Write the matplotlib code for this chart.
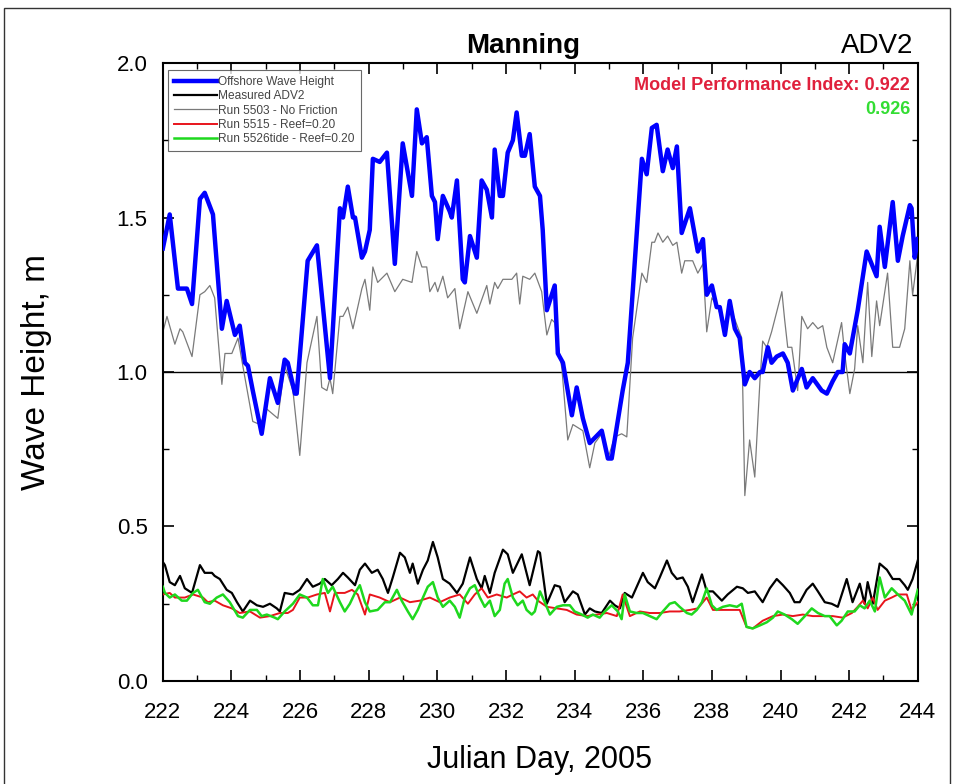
import numpy as np
import matplotlib.pyplot as plt
from matplotlib.patches import Rectangle
from matplotlib.ticker import MultipleLocator

plt.rcParams['font.family'] = ['Liberation Sans', 'DejaVu Sans']

# offshore wave height (day, Hs)
offshore_day = [222.0, 222.2, 222.44, 222.7, 222.85, 223.08, 223.22, 223.46, 223.72, 223.86,
                224.1, 224.24, 224.39, 224.48, 224.62, 224.88, 225.12, 225.35, 225.55, 225.64,
                225.85, 225.9, 226.22, 226.49, 226.87, 227.16, 227.25, 227.39, 227.54, 227.6,
                227.8, 227.89, 228.03, 228.12, 228.32, 228.53, 228.76, 228.99, 229.26, 229.4,
                229.55, 229.69, 229.84, 229.93, 230.01, 230.16, 230.36, 230.42, 230.57, 230.74,
                230.8, 230.95, 231.15, 231.29, 231.44, 231.59, 231.67, 231.82, 231.91, 232.05,
                232.2, 232.31, 232.46, 232.55, 232.69, 232.84, 232.99, 233.07, 233.19, 233.42,
                233.51, 233.66, 233.92, 234.06, 234.24, 234.44, 234.79, 234.97, 235.08, 235.4,
                235.55, 235.96, 236.1, 236.25, 236.39, 236.57, 236.71, 236.86, 236.98, 237.12,
                237.36, 237.59, 237.74, 237.85, 238.0, 238.14, 238.23, 238.38, 238.52, 238.67,
                238.81, 238.96, 239.1, 239.25, 239.4, 239.48, 239.63, 239.74, 239.89, 240.07,
                240.21, 240.36, 240.47, 240.62, 240.76, 240.94, 241.2, 241.35, 241.52, 241.67,
                241.81, 241.87, 242.02, 242.25, 242.51, 242.8, 242.89, 243.04, 243.27, 243.42,
                243.56, 243.77, 243.82, 243.91, 244.0]
offshore_hs = [1.40, 1.51, 1.27, 1.27, 1.22, 1.56, 1.58, 1.51, 1.14, 1.23,
               1.12, 1.15, 1.03, 1.02, 0.94, 0.80, 0.98, 0.90, 1.04, 1.03,
               0.93, 0.93, 1.36, 1.41, 0.98, 1.53, 1.50, 1.60, 1.50, 1.50,
               1.37, 1.39, 1.46, 1.69, 1.68, 1.71, 1.35, 1.74, 1.57, 1.85,
               1.74, 1.76, 1.57, 1.55, 1.43, 1.57, 1.52, 1.50, 1.62, 1.30,
               1.29, 1.44, 1.37, 1.62, 1.59, 1.50, 1.72, 1.57, 1.57, 1.71,
               1.75, 1.84, 1.70, 1.70, 1.77, 1.60, 1.57, 1.46, 1.20, 1.28,
               1.06, 1.03, 0.86, 0.95, 0.85, 0.77, 0.81, 0.72, 0.72, 0.94,
               1.03, 1.69, 1.64, 1.79, 1.80, 1.65, 1.72, 1.66, 1.73, 1.45,
               1.53, 1.39, 1.43, 1.25, 1.28, 1.21, 1.21, 1.12, 1.23, 1.14,
               1.11, 0.96, 1.00, 0.98, 1.00, 1.00, 1.08, 1.03, 1.05, 1.06,
               1.03, 0.94, 0.97, 1.01, 0.95, 0.98, 0.94, 0.93, 0.97, 1.00,
               1.00, 1.09, 1.06, 1.20, 1.39, 1.31, 1.47, 1.34, 1.55, 1.36,
               1.44, 1.54, 1.53, 1.37, 1.43]

# run 5503, no friction
nofric_day = [222.0, 222.12, 222.35, 222.5, 222.58, 222.85, 223.08, 223.22, 223.37, 223.51,
              223.72, 223.81, 224.01, 224.19, 224.33, 224.62, 224.83, 225.03, 225.35, 225.55,
              225.79, 225.99, 226.2, 226.49, 226.63, 226.78, 226.87, 226.95, 227.16, 227.25,
              227.39, 227.54, 227.8, 227.89, 228.03, 228.12, 228.26, 228.53, 228.76, 228.99,
              229.26, 229.4, 229.55, 229.69, 229.78, 229.93, 230.01, 230.16, 230.3, 230.51,
              230.65, 230.89, 231.15, 231.44, 231.53, 231.67, 231.76, 231.91, 232.17, 232.31,
              232.4, 232.49, 232.69, 232.84, 233.04, 233.19, 233.33, 233.42, 233.63, 233.8,
              233.95, 234.24, 234.44, 234.59, 234.79, 234.97, 235.17, 235.37, 235.52, 235.69,
              235.96, 236.1, 236.25, 236.33, 236.43, 236.57, 236.71, 236.86, 236.98, 237.12,
              237.21, 237.44, 237.59, 237.74, 237.85, 238.0, 238.17, 238.38, 238.52, 238.67,
              238.87, 238.96, 239.1, 239.25, 239.4, 239.48, 239.6, 239.74, 240.04, 240.12,
              240.21, 240.33, 240.5, 240.62, 240.79, 240.94, 241.09, 241.23, 241.35, 241.52,
              241.78, 241.87, 242.02, 242.16, 242.25, 242.4, 242.54, 242.66, 242.8, 242.89,
              243.12, 243.27, 243.47, 243.62, 243.77, 243.85, 244.0]
nofric_hs = [1.13, 1.18, 1.09, 1.14, 1.13, 1.05, 1.25, 1.26, 1.28, 1.24,
             0.96, 1.06, 1.06, 1.11, 1.02, 0.84, 0.83, 0.88, 0.85, 1.02,
             0.94, 0.73, 1.03, 1.18, 0.95, 0.94, 0.98, 0.93, 1.18, 1.18,
             1.21, 1.14, 1.27, 1.30, 1.20, 1.34, 1.29, 1.32, 1.26, 1.30,
             1.29, 1.39, 1.34, 1.34, 1.26, 1.29, 1.26, 1.31, 1.24, 1.27,
             1.14, 1.26, 1.19, 1.28, 1.22, 1.29, 1.27, 1.30, 1.30, 1.32,
             1.22, 1.31, 1.30, 1.32, 1.26, 1.12, 1.17, 1.16, 1.01, 0.78,
             0.83, 0.81, 0.69, 0.77, 0.80, 0.72, 0.79, 0.80, 0.79, 1.11,
             1.32, 1.29, 1.42, 1.42, 1.45, 1.42, 1.44, 1.41, 1.42, 1.32,
             1.36, 1.36, 1.32, 1.35, 1.13, 1.24, 1.21, 1.14, 1.21, 1.17,
             1.11, 0.60, 0.78, 0.66, 0.97, 1.10, 1.08, 1.13, 1.26, 1.17,
             1.08, 1.08, 0.94, 1.18, 1.14, 1.16, 1.14, 1.15, 1.08, 1.03,
             1.16, 1.06, 0.93, 1.01, 1.15, 1.03, 1.29, 1.05, 1.23, 1.15,
             1.32, 1.08, 1.08, 1.14, 1.36, 1.25, 1.38]

# measured at ADV2
adv2_day = [222.0, 222.06, 222.2, 222.35, 222.5, 222.64, 222.85, 223.08, 223.22, 223.43,
            223.51, 223.66, 223.86, 224.01, 224.16, 224.33, 224.54, 224.74, 224.92, 225.12,
            225.32, 225.41, 225.55, 225.79, 225.99, 226.2, 226.37, 226.57, 226.72, 226.92,
            227.1, 227.25, 227.39, 227.6, 227.74, 227.89, 228.09, 228.26, 228.41, 228.56,
            228.7, 228.91, 229.05, 229.2, 229.28, 229.43, 229.58, 229.72, 229.87, 230.01,
            230.16, 230.36, 230.57, 230.74, 230.95, 231.15, 231.29, 231.38, 231.53, 231.67,
            231.91, 232.05, 232.2, 232.46, 232.69, 232.93, 232.99, 233.19, 233.42, 233.57,
            233.71, 233.95, 234.09, 234.3, 234.44, 234.59, 234.79, 235.03, 235.17, 235.32,
            235.46, 235.67, 235.81, 235.99, 236.13, 236.34, 236.48, 236.69, 236.83, 236.98,
            237.15, 237.3, 237.44, 237.71, 237.85, 238.03, 238.29, 238.46, 238.73, 238.9,
            239.05, 239.25, 239.48, 239.69, 239.89, 240.07, 240.27, 240.41, 240.56, 240.76,
            240.94, 241.09, 241.29, 241.49, 241.67, 241.93, 242.1, 242.31, 242.45, 242.54,
            242.69, 242.89, 243.1, 243.27, 243.47, 243.62, 243.71, 243.85, 244.0]
adv2_hs = [0.385, 0.375, 0.32, 0.31, 0.34, 0.30, 0.285, 0.375, 0.35, 0.35,
           0.34, 0.33, 0.295, 0.285, 0.255, 0.225, 0.26, 0.245, 0.24, 0.25,
           0.235, 0.225, 0.285, 0.28, 0.295, 0.33, 0.305, 0.315, 0.33, 0.31,
           0.33, 0.35, 0.335, 0.31, 0.36, 0.38, 0.35, 0.36, 0.33, 0.285,
           0.335, 0.415, 0.40, 0.35, 0.38, 0.315, 0.36, 0.39, 0.45, 0.40,
           0.33, 0.315, 0.285, 0.315, 0.40, 0.33, 0.30, 0.34, 0.285, 0.35,
           0.425, 0.41, 0.35, 0.41, 0.31, 0.42, 0.415, 0.25, 0.31, 0.305,
           0.255, 0.29, 0.28, 0.215, 0.235, 0.225, 0.22, 0.26, 0.245, 0.235,
           0.285, 0.27, 0.305, 0.35, 0.32, 0.30, 0.335, 0.39, 0.35, 0.33,
           0.335, 0.305, 0.255, 0.345, 0.29, 0.29, 0.26, 0.28, 0.305, 0.30,
           0.285, 0.29, 0.255, 0.30, 0.33, 0.31, 0.285, 0.255, 0.255, 0.295,
           0.315, 0.29, 0.255, 0.25, 0.24, 0.33, 0.255, 0.315, 0.25, 0.32,
           0.25, 0.38, 0.36, 0.33, 0.33, 0.31, 0.295, 0.33, 0.39]

# run 5515, reef friction 0.20
reef_day = [222.0, 222.2, 222.35, 222.64, 222.88, 223.17, 223.31, 223.51, 223.75, 224.01,
            224.24, 224.54, 224.83, 225.12, 225.41, 225.64, 225.79, 225.99, 226.22, 226.49,
            226.72, 226.87, 227.01, 227.3, 227.51, 227.68, 227.89, 228.03, 228.32, 228.62,
            228.91, 229.2, 229.49, 229.78, 230.07, 230.36, 230.65, 230.89, 231.09, 231.29,
            231.47, 231.73, 232.02, 232.2, 232.4, 232.6, 232.78, 232.93, 233.19, 233.48,
            233.77, 234.06, 234.36, 234.65, 234.94, 235.23, 235.4, 235.61, 235.9, 236.19,
            236.48, 236.77, 237.06, 237.36, 237.59, 237.85, 238.03, 238.32, 238.61, 238.81,
            239.01, 239.19, 239.48, 239.78, 240.07, 240.36, 240.65, 240.94, 241.23, 241.52,
            241.81, 242.08, 242.25, 242.4, 242.54, 242.69, 242.83, 243.04, 243.24, 243.42,
            243.68, 243.82, 244.0]
reef_hs = [0.28, 0.285, 0.27, 0.27, 0.28, 0.27, 0.255, 0.26, 0.245, 0.235,
           0.22, 0.225, 0.205, 0.21, 0.22, 0.22, 0.23, 0.27, 0.27, 0.28,
           0.285, 0.225, 0.285, 0.285, 0.295, 0.28, 0.215, 0.28, 0.27, 0.255,
           0.27, 0.255, 0.26, 0.27, 0.255, 0.27, 0.28, 0.25, 0.28, 0.30,
           0.27, 0.28, 0.27, 0.28, 0.29, 0.27, 0.28, 0.26, 0.24, 0.235,
           0.23, 0.215, 0.21, 0.215, 0.22, 0.21, 0.28, 0.21, 0.225, 0.22,
           0.22, 0.225, 0.225, 0.23, 0.235, 0.27, 0.23, 0.23, 0.23, 0.23,
           0.175, 0.17, 0.195, 0.21, 0.215, 0.21, 0.215, 0.21, 0.21, 0.21,
           0.205, 0.22, 0.24, 0.26, 0.235, 0.27, 0.23, 0.26, 0.27, 0.28,
           0.28, 0.23, 0.255]

# run 5526tide, reef friction 0.20
tide_day = [222.0, 222.06, 222.2, 222.35, 222.55, 222.7, 222.88, 223.02, 223.22, 223.37,
            223.57, 223.75, 223.95, 224.19, 224.33, 224.54, 224.74, 224.88, 225.03, 225.26,
            225.35, 225.55, 225.79, 225.99, 226.2, 226.37, 226.52, 226.66, 226.81, 226.95,
            227.16, 227.3, 227.45, 227.6, 227.74, 227.89, 228.03, 228.26, 228.47, 228.62,
            228.82, 228.96, 229.14, 229.28, 229.43, 229.58, 229.72, 229.87, 230.01, 230.16,
            230.36, 230.51, 230.65, 230.8, 230.95, 231.09, 231.24, 231.38, 231.53, 231.67,
            231.82, 231.96, 232.05, 232.2, 232.34, 232.49, 232.6, 232.75, 232.84, 232.99,
            233.13, 233.28, 233.48, 233.66, 233.86, 234.0, 234.21, 234.38, 234.53, 234.73,
            234.88, 235.08, 235.26, 235.37, 235.46, 235.61, 235.81, 235.99, 236.19, 236.39,
            236.57, 236.77, 236.92, 237.06, 237.27, 237.41, 237.56, 237.71, 237.85, 238.0,
            238.14, 238.32, 238.52, 238.73, 238.87, 239.01, 239.19, 239.4, 239.6, 239.78,
            239.92, 240.12, 240.33, 240.5, 240.71, 240.91, 241.09, 241.29, 241.43, 241.64,
            241.78, 241.96, 242.16, 242.31, 242.45, 242.6, 242.75, 242.89, 243.04, 243.24,
            243.42, 243.62, 243.82, 244.0]
tide_hs = [0.305, 0.285, 0.27, 0.28, 0.26, 0.26, 0.285, 0.295, 0.255, 0.25,
           0.27, 0.28, 0.255, 0.21, 0.205, 0.23, 0.23, 0.21, 0.215, 0.205,
           0.20, 0.225, 0.25, 0.28, 0.27, 0.245, 0.245, 0.33, 0.285, 0.305,
           0.255, 0.225, 0.25, 0.285, 0.31, 0.255, 0.225, 0.23, 0.255, 0.255,
           0.295, 0.26, 0.225, 0.20, 0.23, 0.27, 0.305, 0.32, 0.27, 0.24,
           0.26, 0.24, 0.205, 0.27, 0.30, 0.31, 0.27, 0.24, 0.26, 0.21,
           0.23, 0.315, 0.33, 0.27, 0.245, 0.26, 0.23, 0.215, 0.225, 0.29,
           0.255, 0.215, 0.24, 0.245, 0.245, 0.225, 0.215, 0.205, 0.215, 0.205,
           0.225, 0.245, 0.225, 0.20, 0.28, 0.225, 0.22, 0.22, 0.21, 0.20,
           0.225, 0.25, 0.255, 0.24, 0.22, 0.215, 0.23, 0.255, 0.30, 0.245,
           0.23, 0.24, 0.245, 0.24, 0.25, 0.175, 0.17, 0.18, 0.19, 0.205,
           0.225, 0.215, 0.20, 0.185, 0.21, 0.235, 0.22, 0.21, 0.21, 0.18,
           0.195, 0.225, 0.225, 0.245, 0.235, 0.26, 0.225, 0.335, 0.27, 0.30,
           0.28, 0.26, 0.215, 0.295]

fig = plt.figure(figsize=(9.58, 7.84), dpi=100)
ax = fig.add_axes([0.170, 0.1314, 0.788, 0.7882])

ax.plot(nofric_day, nofric_hs, color='#7a7a7a', lw=0.9, zorder=2, label='Run 5503 - No Friction')
ax.plot(offshore_day, offshore_hs, color='#0000ff', lw=3.2, zorder=3, label='Offshore Wave Height')
ax.plot(adv2_day, adv2_hs, color='black', lw=1.6, zorder=3, label='Measured ADV2')
ax.plot(reef_day, reef_hs, color='#e8141c', lw=1.4, zorder=4, label='Run 5515 - Reef=0.20')
ax.plot(tide_day, tide_hs, color='#1ed81e', lw=1.8, zorder=5, label='Run 5526tide - Reef=0.20')
ax.axhline(1.0, color='black', lw=1.0, zorder=1)

ax.set_xlim(222, 244)
ax.set_ylim(0, 2.0)
ax.xaxis.set_major_locator(MultipleLocator(2))
ax.xaxis.set_minor_locator(MultipleLocator(1))
ax.yaxis.set_major_locator(MultipleLocator(0.5))
ax.yaxis.set_minor_locator(MultipleLocator(0.25))
ax.yaxis.set_major_formatter(plt.FormatStrFormatter('%.1f'))
ax.tick_params(which='both', direction='in', top=True, right=True, labelsize=16)
ax.tick_params(which='major', length=8, width=1.2)
ax.tick_params(which='minor', length=4, width=1.0)
ax.tick_params(axis='x', which='major', pad=15)
ax.tick_params(axis='y', which='major', pad=11)
for s in ax.spines.values():
    s.set_linewidth(1.5)

ax.set_xlabel('Julian Day, 2005', fontsize=22, va='top')
ax.set_ylabel('Wave Height, m', fontsize=24)
ax.xaxis.set_label_coords(0.499, -0.103)
ax.yaxis.set_label_coords(-0.147, 0.5)

handles, labels = ax.get_legend_handles_labels()
order = [1, 2, 0, 3, 4]
leg = ax.legend([handles[i] for i in order], [labels[i] for i in order],
                loc='upper left', bbox_to_anchor=(0.004, 0.992), fontsize=8.6,
                frameon=True, fancybox=False, edgecolor='#444444',
                handlelength=3.6, handletextpad=0.1, labelspacing=0.18,
                borderpad=0.5, borderaxespad=0.2)
leg.get_frame().set_linewidth(0.8)
for t in leg.get_texts():
    t.set_color('#444444')

fig.text(0.546, 0.941, 'Manning', ha='center', va='center', fontsize=20, fontweight='bold')
fig.text(0.953, 0.941, 'ADV2', ha='right', va='center', fontsize=20)
fig.text(0.950, 0.891, 'Model Performance Index: 0.922', ha='right', va='center',
         fontsize=13, fontweight='bold', color='#e0203c')
fig.text(0.950, 0.860, '0.926', ha='right', va='center',
         fontsize=13, fontweight='bold', color='#33dd33')

# thin page frame
fig.add_artist(Rectangle((0.004, -0.05), 0.988, 1.04, transform=fig.transFigure,
                         fill=False, edgecolor='#333333', lw=1.0))

fig.savefig('out.png', dpi=100)
